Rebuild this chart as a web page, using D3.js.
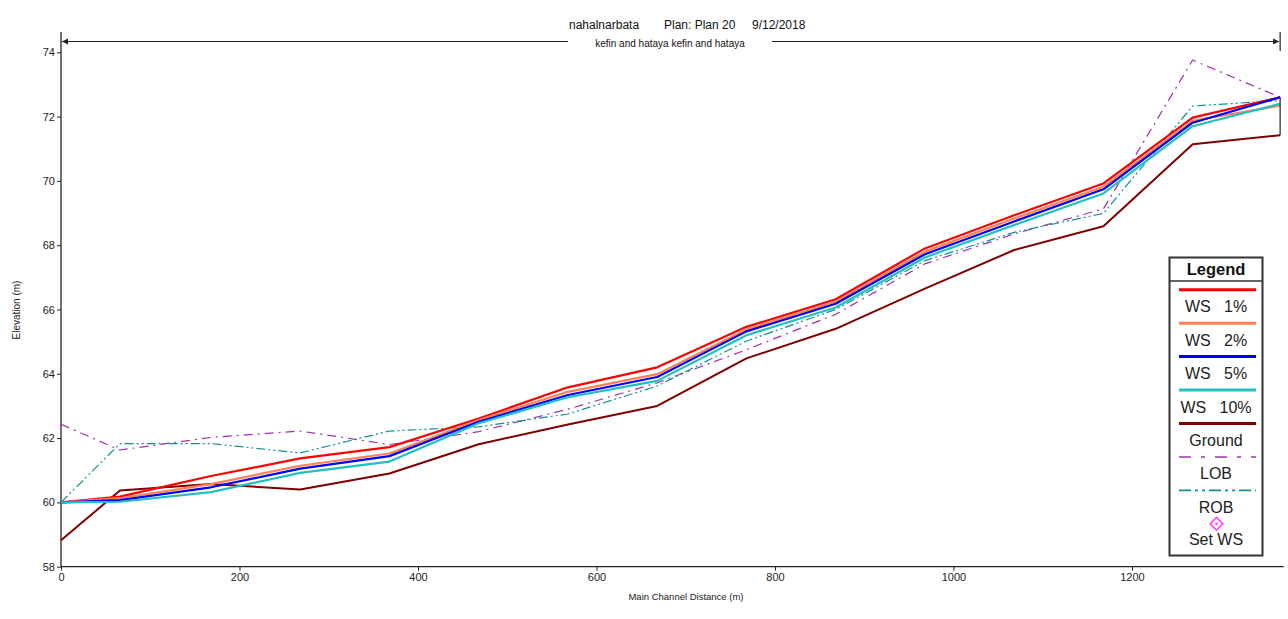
<!DOCTYPE html>
<html><head><meta charset="utf-8">
<script src="https://cdn.jsdelivr.net/npm/d3@7"></script>
<style>
body{margin:0;background:#fff}
svg{display:block;font-family:"Liberation Sans",Arial,sans-serif}
</style>
</head><body>
<svg id="c" width="1288" height="619"></svg>
<script>
// ---- data ----
const stations = [0, 66, 168, 268, 368, 468, 568, 668, 768, 868, 968, 1068, 1168, 1268, 1366];
const ws1    = [60.00, 60.18, 60.82, 61.37, 61.72, 62.61, 63.58, 64.20, 65.46, 66.32, 67.90, 68.93, 69.92, 71.97, 72.60];
const ws2    = [60.00, 60.13, 60.57, 61.14, 61.52, 62.56, 63.44, 63.99, 65.38, 66.24, 67.80, 68.83, 69.82, 71.87, 72.34];
const ws5    = [60.00, 60.07, 60.47, 61.05, 61.44, 62.51, 63.34, 63.90, 65.32, 66.18, 67.72, 68.74, 69.74, 71.81, 72.60];
const ws10   = [60.00, 60.02, 60.32, 60.92, 61.27, 62.46, 63.27, 63.78, 65.20, 66.06, 67.62, 68.63, 69.61, 71.70, 72.40];
const ground = [58.82, 60.37, 60.57, 60.40, 60.90, 61.81, 62.42, 63.00, 64.48, 65.40, 66.65, 67.85, 68.59, 71.14, 71.42];
const lob    = [62.43, 61.63, 62.02, 62.22, 61.80, 62.20, 62.90, 63.72, 64.75, 65.85, 67.42, 68.35, 69.13, 73.76, 72.60];
const rob    = [60.00, 61.83, 61.83, 61.54, 62.22, 62.35, 62.75, 63.62, 65.02, 66.00, 67.52, 68.40, 68.99, 72.33, 72.50];

const xTicks = [0, 200, 400, 600, 800, 1000, 1200];
const xMinor = d3.range(0, 1370, 40);
const yTicks = [58, 60, 62, 64, 66, 68, 70, 72, 74];
const yMinor = d3.range(58, 75, 1);

const titleParts = ["nahalnarbata", "Plan: Plan 20", "9/12/2018"];
const subtitle = "kefin and hataya kefin and hataya";
const xLabel = "Main Channel Distance (m)";
const yLabel = "Elevation (m)";

const series = [
  {name: "WS  1%",  values: ws1,    color: "#ff0000", width: 2.2, dash: null},
  {name: "WS  2%",  values: ws2,    color: "#ff8050", width: 2.2, dash: null},
  {name: "WS  5%",  values: ws5,    color: "#0000ff", width: 2.2, dash: null},
  {name: "WS  10%", values: ws10,   color: "#20c0c0", width: 2.2, dash: null},
  {name: "Ground",  values: ground, color: "#800000", width: 2.0, dash: null},
  {name: "LOB",     values: lob,    color: "#a030b0", width: 1.2, dash: "9,5,2,5"},
  {name: "ROB",     values: rob,    color: "#109090", width: 1.2, dash: "9,3,2,3,2,3"}
];

// ---- scales ----
const svg = d3.select("#c");
const x = d3.scaleLinear().domain([0, 1370]).range([61, 1283.7]);
const y = d3.scaleLinear().domain([58, 74]).range([566.7, 52.3]);
const axisColor = "#222";

// ---- title ----
const tg = svg.append("g").attr("fill", "#111").attr("font-size", 12);
tg.append("text").attr("x", 569).attr("y", 29).text(titleParts[0]);
tg.append("text").attr("x", 664).attr("y", 29).text(titleParts[1]);
tg.append("text").attr("x", 752).attr("y", 29).text(titleParts[2]);
svg.append("text").attr("x", 670).attr("y", 46.5).attr("text-anchor", "middle")
  .attr("font-size", 10).attr("fill", "#111").text(subtitle);

// reach arrow
const ay = 41.5;
const ag = svg.append("g").attr("stroke", "#222").attr("stroke-width", 1.2);
ag.append("line").attr("x1", x(0) + 1).attr("x2", 568).attr("y1", ay).attr("y2", ay);
ag.append("line").attr("x1", 772).attr("x2", x(stations[stations.length - 1]) - 1).attr("y1", ay).attr("y2", ay);
ag.append("line").attr("x1", x(stations[stations.length - 1])).attr("x2", x(stations[stations.length - 1]))
  .attr("y1", 32).attr("y2", 51);
svg.append("path").attr("fill", "#222")
  .attr("d", `M${x(0)+1},${ay} l6,-3 l0,6 Z`);
svg.append("path").attr("fill", "#222")
  .attr("d", `M${x(stations[stations.length-1])-1},${ay} l-6,-3 l0,6 Z`);

// ---- axes ----
const yAxisG = svg.append("g").attr("transform", `translate(${x(0)},0)`);
yAxisG.call(d3.axisLeft(y).tickValues(yMinor).tickSize(2.5).tickFormat(""));
yAxisG.call(d3.axisLeft(y).tickValues(yTicks).tickSize(4).tickPadding(2).tickFormat(d3.format("d")));
yAxisG.selectAll(".domain").remove();
yAxisG.selectAll("line").attr("stroke", axisColor);
yAxisG.selectAll("text").attr("font-size", 11).attr("fill", "#222").attr("font-family", "Liberation Sans, Arial, sans-serif");
svg.append("line").attr("x1", x(0)).attr("x2", x(0)).attr("y1", 32).attr("y2", y(58))
  .attr("stroke", axisColor).attr("stroke-width", 1.3);

const xAxisG = svg.append("g").attr("transform", `translate(0,${y(58)})`);
xAxisG.call(d3.axisBottom(x).tickValues(xMinor).tickSize(3).tickFormat(""));
xAxisG.call(d3.axisBottom(x).tickValues(xTicks).tickSize(4).tickPadding(3).tickFormat(d3.format("d")));
xAxisG.selectAll(".domain").remove();
xAxisG.selectAll("line").attr("stroke", axisColor);
xAxisG.selectAll("text").attr("font-size", 11).attr("fill", "#222").attr("font-family", "Liberation Sans, Arial, sans-serif");
svg.append("line").attr("x1", x(0)).attr("x2", x(1370)).attr("y1", y(58)).attr("y2", y(58))
  .attr("stroke", axisColor).attr("stroke-width", 1.3);

svg.append("text").attr("x", 686).attr("y", 600).attr("text-anchor", "middle")
  .attr("font-size", 9.5).attr("fill", "#222").text(xLabel);
svg.append("text").attr("transform", "translate(20,310) rotate(-90)").attr("text-anchor", "middle")
  .attr("font-size", 10).attr("fill", "#222").text(yLabel);

// ---- lines ----
const line = d3.line().x((d, i) => x(stations[i])).y(d => y(d));
const drawOrder = [4, 5, 6, 0, 1, 2, 3];
drawOrder.forEach(k => {
  const s = series[k];
  svg.append("path").datum(s.values)
    .attr("fill", "none").attr("stroke", s.color).attr("stroke-width", s.width)
    .attr("stroke-dasharray", s.dash).attr("stroke-linejoin", "round")
    .attr("d", line);
});
// end of reach: vertical from ground up to highest WS
const last = stations.length - 1;
svg.append("line").attr("x1", x(stations[last])).attr("x2", x(stations[last]))
  .attr("y1", y(ground[last])).attr("y2", y(d3.max([ws1[last], ws2[last], ws5[last], ws10[last]])))
  .attr("stroke", "#333").attr("stroke-width", 1.3);

// ---- legend ----
const lg = svg.append("g");
const lx = 1169.5, ly = 257.5, lw = 93, lh = 298;
lg.append("rect").attr("x", lx).attr("y", ly).attr("width", lw).attr("height", lh)
  .attr("fill", "#fff").attr("stroke", "#333").attr("stroke-width", 2);
lg.append("line").attr("x1", lx).attr("x2", lx + lw).attr("y1", 281).attr("y2", 281)
  .attr("stroke", "#333").attr("stroke-width", 1.5);
lg.append("text").attr("x", lx + lw / 2).attr("y", 274.5).attr("text-anchor", "middle")
  .attr("font-size", 16.5).attr("font-weight", "bold").attr("fill", "#111").text("Legend");
const step = 33.45;
series.forEach((s, i) => {
  const yy = 289.7 + i * step;
  lg.append("line").attr("x1", 1179).attr("x2", 1256).attr("y1", yy).attr("y2", yy)
    .attr("stroke", s.color).attr("stroke-width", s.dash ? 1.6 : 3)
    .attr("stroke-dasharray", s.dash ? (i === 5 ? "12,10,4,10" : "12,4,3,4,3,4") : null);
  lg.append("text").attr("x", lx + lw / 2).attr("y", yy + 22.5).attr("text-anchor", "middle")
    .attr("font-size", 16).attr("fill", "#222").style("white-space", "pre").text(s.name.replace("  ", "   "));
});
const dy = 289.7 + 7 * step;
lg.append("rect").attr("x", -4.5).attr("y", -4.5).attr("width", 9).attr("height", 9)
  .attr("transform", `translate(1216.5,${dy}) rotate(45)`)
  .attr("fill", "none").attr("stroke", "#ff40ff").attr("stroke-width", 1.6);
lg.append("circle").attr("cx", 1216.5).attr("cy", dy).attr("r", 1.3).attr("fill", "#ff40ff");
lg.append("text").attr("x", lx + lw / 2).attr("y", dy + 21).attr("text-anchor", "middle")
  .attr("font-size", 16).attr("fill", "#222").text("Set WS");
</script>
</body></html>
